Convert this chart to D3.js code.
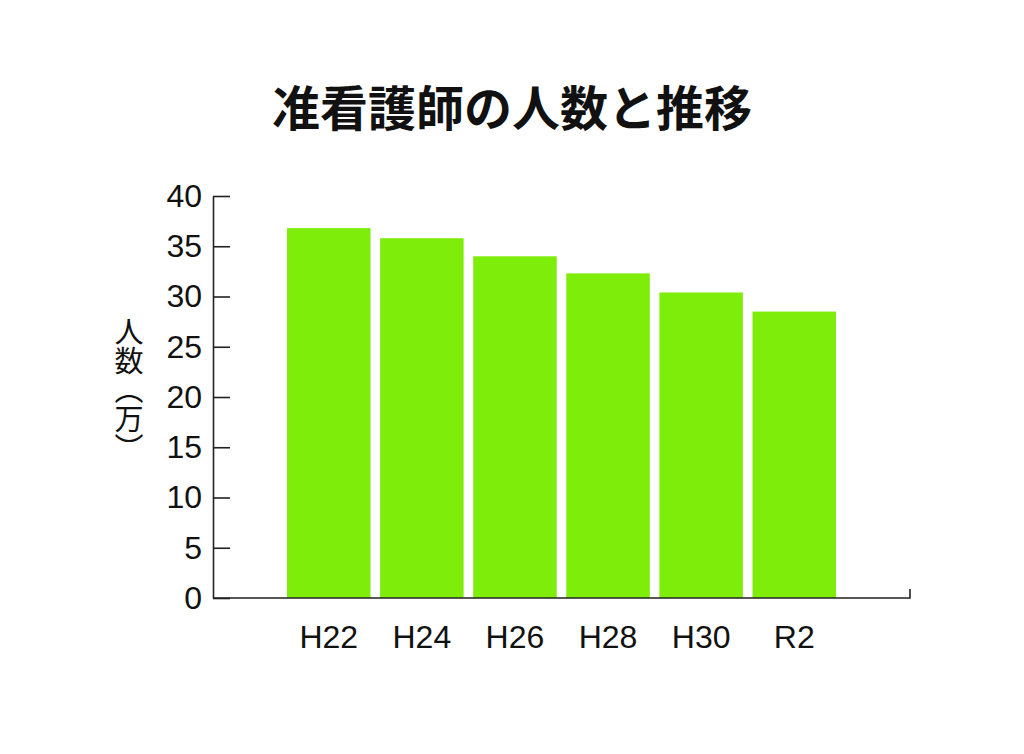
<!DOCTYPE html>
<html lang="ja">
  <head>
    <meta charset="utf-8" />
    <script src="https://cdn.jsdelivr.net/npm/d3@7/dist/d3.min.js"></script>
    <title>准看護師の人数と推移</title>
    <style>
      body {
        margin: 0;
        background: #fff;
      }
      .tick text {
        font-family: "Liberation Sans", Arial, sans-serif;
        font-size: 32px;
        fill: #111;
      }
    </style>
  </head>
  <body>
    <div id="container"></div>

    <script>
      // data (万人)
      const years = ["H22", "H24", "H26", "H28", "H30", "R2"];
      const counts = [36.8, 35.8, 34.0, 32.3, 30.4, 28.5];
      const yTicks = [0, 5, 10, 15, 20, 25, 30, 35, 40];

      const width = 1024;
      const height = 754;
      const margin = { top: 196, right: 114, bottom: 156, left: 213 };

      const svg = d3.select("#container").append("svg").attr("width", width).attr("height", height);

      const x = d3
        .scaleBand()
        .domain(years)
        .range([margin.left, width - margin.right])
        .paddingInner(0.103)
        .paddingOuter(0.795);

      const y = d3
        .scaleLinear()
        .domain([0, 40])
        .range([height - margin.bottom, margin.top]);

      // title
      svg
        .append("text")
        .attr("x", width / 2)
        .attr("y", 126)
        .attr("text-anchor", "middle")
        .style("font-family", "'Noto Sans CJK JP', sans-serif")
        .style("font-weight", "bold")
        .style("font-size", "48px")
        .style("fill", "#111")
        .text("准看護師の人数と推移");

      // bars
      svg
        .append("g")
        .selectAll("rect")
        .data(counts)
        .join("rect")
        .attr("x", (d, i) => x(years[i]))
        .attr("y", (d) => y(d))
        .attr("width", x.bandwidth())
        .attr("height", (d) => y(0) - y(d))
        .attr("fill", "#7eed0a");

      // y axis, ticks point inward
      const yAxis = svg
        .append("g")
        .attr("transform", `translate(${margin.left},0)`)
        .call(d3.axisLeft(y).tickValues(yTicks).tickSize(-17).tickPadding(11).tickSizeOuter(0));
      yAxis.selectAll("path, line").attr("stroke", "#222").attr("stroke-width", 1.6);

      // x axis: labels only, own baseline with end tick
      const xAxis = svg
        .append("g")
        .attr("transform", `translate(0,${y(0)})`)
        .call(d3.axisBottom(x).tickSize(0).tickPadding(27));
      xAxis.select(".domain").remove();

      svg
        .append("path")
        .attr("d", `M${margin.left},${y(0)}H${width - margin.right}V${y(0) - 9}`)
        .attr("fill", "none")
        .attr("stroke", "#222")
        .attr("stroke-width", 1.6);

      // vertical y label
      svg
        .append("text")
        .attr("x", 129)
        .attr("y", 390)
        .attr("text-anchor", "middle")
        .style("writing-mode", "vertical-rl")
        .style("font-family", "'Noto Sans CJK JP', sans-serif")
        .style("font-size", "29px")
        .style("fill", "#111")
        .text("人数（万）");
    </script>
  </body>
</html>
